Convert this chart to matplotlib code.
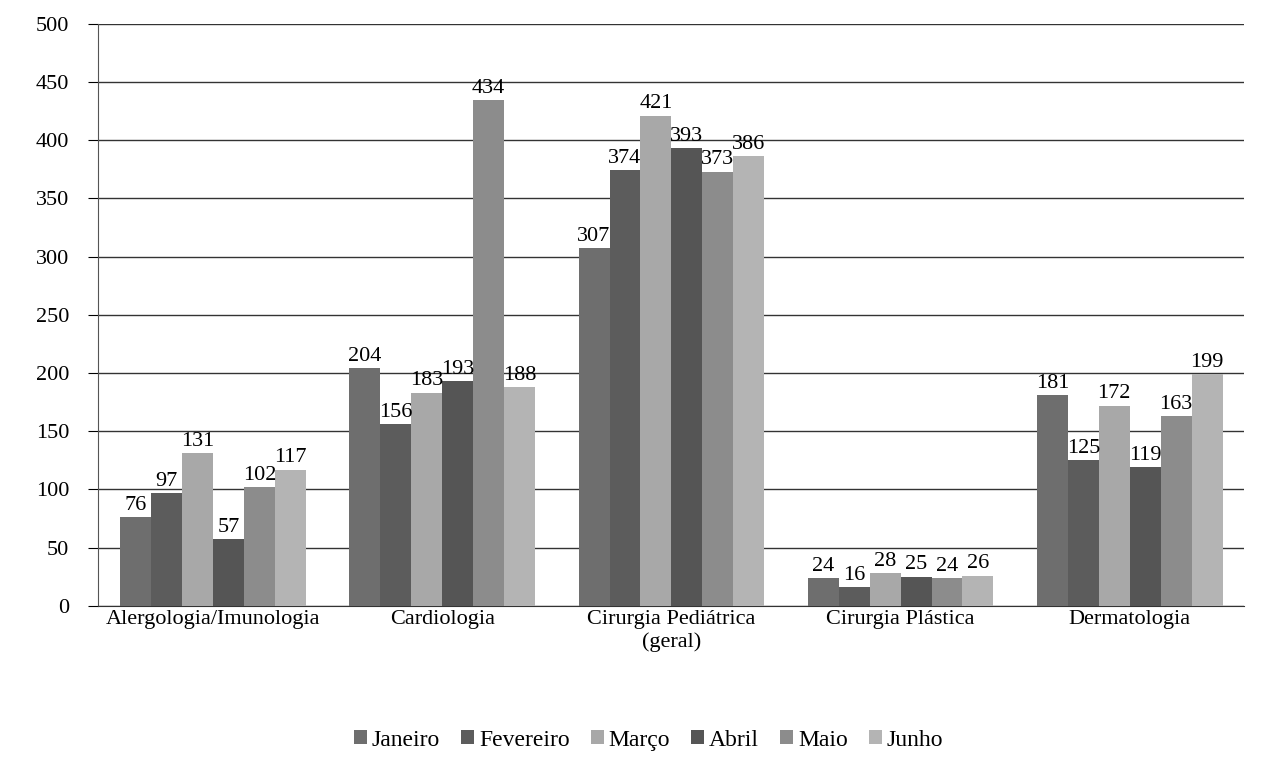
import numpy as np
import matplotlib.pyplot as plt

# Dados
especialidades = ['Alergologia/Imunologia', 'Cardiologia', 'Cirurgia Pediátrica\n(geral)',
                  'Cirurgia Plástica', 'Dermatologia']
meses = ['Janeiro', 'Fevereiro', 'Março', 'Abril', 'Maio', 'Junho']
janeiro = [76, 204, 307, 24, 181]
fevereiro = [97, 156, 374, 16, 125]
marco = [131, 183, 421, 28, 172]
abril = [57, 193, 393, 25, 119]
maio = [102, 434, 373, 24, 163]
junho = [117, 188, 386, 26, 199]

series = [janeiro, fevereiro, marco, abril, maio, junho]
cores = ['#6e6e6e', '#5c5c5c', '#a8a8a8', '#555555', '#8c8c8c', '#b4b4b4']

plt.rcParams['font.family'] = ['Liberation Serif', 'DejaVu Serif']

fig = plt.figure(figsize=(12.62, 7.63), dpi=100)
ax = fig.add_axes([0.078, 0.206, 0.908, 0.763])

x = np.arange(len(especialidades))
largura = 0.135
for i, (valores, mes) in enumerate(zip(series, meses)):
    pos = x + (i - 2.5) * largura
    barras = ax.bar(pos, valores, largura, color=cores[i], label=mes, zorder=3)
    for b, v in zip(barras, valores):
        ax.text(b.get_x() + b.get_width() / 2, v + 2, str(v), ha='center', va='bottom',
                fontsize=16, zorder=4)

ax.set_ylim(0, 500)
ax.set_xlim(-0.5, len(especialidades) - 0.5)
ax.set_yticks(np.arange(0, 501, 50))
ax.yaxis.grid(True, color='#333333', linewidth=1, zorder=0)
ax.set_axisbelow(True)
ax.set_xticks(x)
ax.set_xticklabels(especialidades, fontsize=16)
ax.tick_params(axis='x', length=0, pad=3)
ax.tick_params(axis='y', labelsize=16, length=7, pad=14)
for lado in ['top', 'right']:
    ax.spines[lado].set_visible(False)
ax.spines['left'].set_color('#555555')
ax.spines['bottom'].set_color('#333333')

handles, labels = ax.get_legend_handles_labels()
fig.legend(handles, labels, loc='center', bbox_to_anchor=(0.514, 0.03), ncol=6,
           frameon=False, fontsize=17, handlelength=0.55, handleheight=0.55,
           handletextpad=0.2, columnspacing=0.9)

fig.savefig('out.png', dpi=100)
